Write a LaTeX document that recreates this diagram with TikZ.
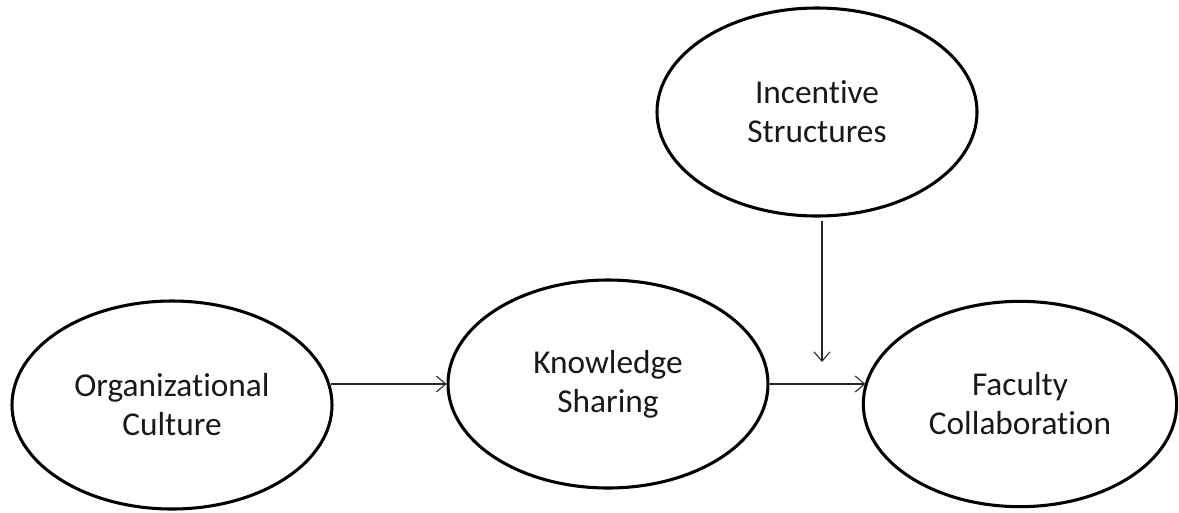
\documentclass[tikz,border=0pt]{standalone}
\usepackage{fontspec}
\setmainfont[Ligatures={NoCommon,TeX}]{Carlito}
\usetikzlibrary{shapes.geometric,arrows.meta}
\tikzset{
  oval/.style={ellipse, draw=black, line width=2.3pt, inner sep=0pt,
    minimum width=240pt, minimum height=156pt, align=center,
    font=\fontsize{25pt}{29.3pt}\selectfont, text=black!90},
  arr/.style={draw=black!85, line width=0.8pt,
    -{Straight Barb[length=7pt,width=12pt,line width=0.8pt]}}
}
\begin{document}
\begin{tikzpicture}[x=0.75pt,y=-0.75pt]
\useasboundingbox (0,0) rectangle (1179,512);
\node[oval] (oc) at (172,405) {Organizational\\Culture};
\node[oval] (ks) at (608,384) {Knowledge\\Sharing};
\node[oval] (is) at (817,112) {Incentive\\Structures};
\node[oval, minimum width=235pt, minimum height=154pt] (fc) at (1020,404) {Faculty\\Collaboration};
\coordinate (tip) at (822,362);
\draw[arr] (ks.west -| oc.7.6) -- (ks.west);
\draw[arr] (ks.east) -- (ks.east -| fc.172.6);
\draw[arr, shorten <=2.5pt] (tip |- is.south) -- (tip);
\end{tikzpicture}
\end{document}
